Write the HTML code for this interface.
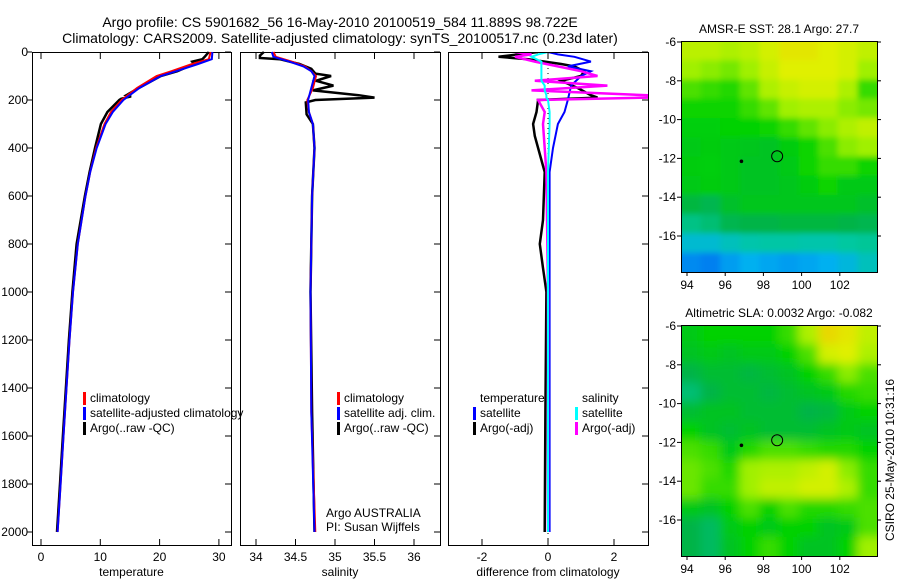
<!DOCTYPE html>
<html><head><meta charset="utf-8"><style>
html,body{margin:0;padding:0;background:#fff}
svg{display:block;font-family:"Liberation Sans",sans-serif}
</style></head><body>
<svg id="c" width="900" height="580" viewBox="0 0 900 580">
<text x="340" y="27" font-size="14" text-anchor="middle">Argo profile: CS 5901682_56 16-May-2010 20100519_584 11.889S 98.722E</text>
<text x="340" y="43" font-size="14" text-anchor="middle">Climatology: CARS2009. Satellite-adjusted climatology: synTS_20100517.nc (0.23d later)</text>
<text transform="translate(894,460) rotate(-90)" font-size="12" text-anchor="middle">CSIRO 25-May-2010 10:31:16</text>
<g id="plots"></g>
</svg>
<script>
// ---- data ----
const depthTicks=[0,200,400,600,800,1000,1200,1400,1600,1800,2000];
const tempTicks=[0,10,20,30];
const salTicks=[34,34.5,35,35.5,36];
const diffTicks=[-2,0,2];
const tClimD=[0,30,50,80,100,150,200,250,300,400,500,600,800,1000,1200,1400,1600,1800,2000];
const tClim=[28.6,28.3,25.5,22,19.5,16.2,13.6,11.8,10.7,9.3,8.3,7.5,6.2,5.4,4.8,4.3,3.8,3.3,2.8];
const tSat=[28.9,28.8,26.5,22.8,20.2,16.6,13.9,12.1,10.9,9.4,8.3,7.5,6.2,5.4,4.8,4.3,3.8,3.3,2.8];
const tArgoD=[0,20,30,40,50,80,100,150,180,185,195,200,250,300,400,500,600,800,1000,1200,1400,1600,1800,2000];
const tArgo=[28.3,27.6,27.2,25.5,25.8,23,20.2,16.5,14.4,15.2,13.5,13.2,11.2,10.1,9.1,8.2,7.4,6.0,5.3,4.7,4.2,3.7,3.2,2.7];
const sClimD=[0,20,40,60,80,100,150,200,250,300,400,600,1000,1500,2000];
const sClim=[34.22,34.25,34.45,34.62,34.7,34.76,34.72,34.65,34.67,34.72,34.74,34.71,34.69,34.7,34.75];
const sSat=[34.2,34.22,34.42,34.6,34.7,34.74,34.7,34.66,34.67,34.72,34.74,34.71,34.69,34.7,34.74];
const sArgoD=[0,15,25,30,50,70,90,100,120,140,160,180,190,200,210,260,300,400,600,1000,1500,2000];
const sArgo=[34.1,34.05,34.05,34.3,34.55,34.7,34.75,34.95,34.76,34.98,34.72,35.3,35.5,34.75,34.63,34.64,34.72,34.74,34.71,34.69,34.71,34.74];
const dTD=[0,10,20,30,50,60,80,100,120,150,180,190,200,250,300,350,400,450,500,700,800,900,1000,1500,2000];
const dTArgo=[-0.3,-0.9,-1.5,-0.6,0.4,0.8,1.1,1.0,0.4,0.9,1.3,1.5,-0.3,-0.35,-0.45,-0.4,-0.3,-0.2,-0.1,-0.15,-0.25,-0.15,-0.05,-0.08,-0.1];
const dTSatD=[0,10,20,40,60,80,100,140,200,250,300,400,500,1000,2000];
const dTSat=[0,0.3,0.8,1.3,0.6,1.3,1.0,0.7,0.6,0.5,0.3,0.15,0.05,0.05,0.05];
const dSD=[0,10,20,40,60,80,100,120,140,160,180,190,200,250,300,500,1000,2000];
const dSArgo=[-1.0,-0.5,-1.0,-0.4,0.3,1.0,1.5,-0.4,1.8,-0.5,3.0,3.0,-0.3,-0.1,-0.15,-0.05,0,0];
const dSSat=[0,-0.3,-0.5,-0.2,-0.2,-0.2,-0.2,-0.2,-0.1,-0.1,-0.05,-0.05,0,0.05,0.05,0,0,0];
const lonTicks=[94,96,98,100,102];
const latTicks=[-6,-8,-10,-12,-14,-16];
const sstGrid=[
[.74,.74,.72,.74,.78,.82,.82,.8,.78,.75],
[.7,.68,.66,.7,.76,.8,.8,.8,.78,.7],
[.62,.6,.58,.64,.72,.76,.78,.78,.72,.6],
[.56,.56,.56,.6,.64,.7,.72,.72,.68,.66],
[.54,.54,.55,.55,.56,.6,.64,.68,.72,.75],
[.52,.53,.52,.51,.5,.53,.56,.62,.68,.7],
[.53,.54,.52,.5,.5,.52,.56,.6,.6,.56],
[.52,.53,.52,.5,.5,.51,.53,.56,.52,.52],
[.46,.44,.49,.51,.51,.51,.51,.51,.51,.49],
[.38,.4,.44,.45,.45,.46,.46,.46,.45,.44],
[.26,.26,.3,.33,.34,.34,.33,.33,.35,.36],
[.12,.1,.16,.2,.18,.16,.18,.2,.24,.3]];
const slaGrid=[
[.52,.55,.55,.55,.55,.6,.72,.85,.82,.75],
[.5,.52,.5,.52,.52,.55,.62,.78,.8,.72],
[.45,.48,.48,.46,.48,.5,.55,.6,.68,.62],
[.4,.45,.48,.48,.46,.48,.5,.52,.58,.6],
[.48,.5,.5,.48,.48,.48,.45,.46,.52,.55],
[.55,.5,.48,.5,.48,.48,.48,.5,.52,.5],
[.62,.6,.52,.58,.62,.62,.6,.58,.58,.55],
[.65,.62,.58,.7,.72,.72,.75,.78,.68,.6],
[.65,.6,.6,.7,.75,.75,.78,.78,.72,.6],
[.52,.5,.55,.62,.55,.62,.58,.58,.6,.62],
[.45,.42,.52,.55,.52,.55,.55,.5,.52,.62],
[.45,.42,.5,.55,.6,.55,.5,.5,.55,.7]];
// ---- drawing ----
const NS='http://www.w3.org/2000/svg';
const root=document.getElementById('plots');
function mk(tag,attrs,parent){const e=document.createElementNS(NS,tag);for(const k in attrs)e.setAttribute(k,attrs[k]);(parent||root).appendChild(e);return e;}
const BOT=545;
const y=d=>52+d*0.24;
function panel(name,x0,x1,xs,ticks,fmt,label,showDepth){
  const g=mk('g',{});
  
  
  mk('rect',{x:x0+.5,y:52.5,width:x1-x0,height:BOT-52,fill:'none',stroke:'#000'},g);
  ticks.forEach(t=>{const X=xs(t);
    mk('line',{x1:X,x2:X,y1:BOT,y2:BOT-6,stroke:'#000'},g);
    mk('line',{x1:X,x2:X,y1:53,y2:59,stroke:'#000'},g);
    const tx=mk('text',{x:X,y:BOT+16,'font-size':12,'text-anchor':'middle'},g);tx.textContent=fmt(t);
    });
  depthTicks.forEach(d=>{const Y=y(d);
    mk('line',{x1:x1,x2:x1-6,y1:Y,y2:Y,stroke:'#000'},g);
    if(showDepth){mk('line',{x1:x0,x2:x0-5,y1:Y,y2:Y,stroke:'#000'},g);
      const t=mk('text',{x:x0-4,y:Y+4,'font-size':12,'text-anchor':'end'},g);t.textContent=d;
      }});
  const l=mk('text',{x:(x0+x1)/2,y:576,'font-size':12,'text-anchor':'middle'},g);l.textContent=label;
  
  return g;
}
function line(g,ds,vs,xs,col,w,name){
  const p=ds.map((d,i)=>(i?'L':'M')+xs(vs[i]).toFixed(1)+','+y(d).toFixed(1)).join('');
  const e=mk('path',{d:p,fill:'none',stroke:col,'stroke-width':w},g);
  
}
function legend(g,x,yy,items){items.forEach((it,i)=>{
  const b=mk('rect',{x:x,y:yy+i*15-10,width:3,height:13,fill:it[0]},g);
  
  if(it[1]){const t=mk('text',{x:x+7,y:yy+i*15,'font-size':12},g);t.textContent=it[1];
  }});}
// temperature
const xT=v=>41+v*5.93;
const g1=panel('temperature-panel',32,231,xT,tempTicks,String,'temperature',true);
line(g1,tArgoD,tArgo,xT,'#000',2.5,'argo-temperature-line');
line(g1,tClimD,tClim,xT,'#f00',2,'climatology-temperature-line');
line(g1,tClimD,tSat,xT,'#00f',2,'satellite-temperature-line');
legend(g1,83,402,[['#f00','climatology'],['#00f','satellite-adjusted climatology'],['#000','Argo(..raw -QC)']]);
// salinity
const xS=v=>256+(v-34)*79;
const g2=panel('salinity-panel',240,440,xS,salTicks,String,'salinity',false);
line(g2,sArgoD,sArgo,xS,'#000',2.5,'argo-salinity-line');
line(g2,sClimD,sClim,xS,'#f00',2,'climatology-salinity-line');
line(g2,sClimD,sSat,xS,'#00f',2,'satellite-salinity-line');
legend(g2,337,402,[['#f00','climatology'],['#00f','satellite adj. clim.'],['#000','Argo(..raw -QC)']]);
const a1=mk('text',{x:326,y:517,'font-size':12},g2);a1.textContent='Argo AUSTRALIA';

const a2=mk('text',{x:326,y:531,'font-size':12},g2);a2.textContent='PI: Susan Wijffels';

// diff
const xD=v=>548+v*33;
const g3p=panel('difference-panel',448,648,xD,diffTicks,String,'difference from climatology',false);
const cp3=mk('clipPath',{id:'dclip'},g3p);mk('rect',{x:449,y:53,width:199,height:BOT-53},cp3);
const gd=mk('g',{'clip-path':'url(#dclip)'},g3p);
mk('line',{x1:548,x2:548,y1:53,y2:BOT,stroke:'#000','stroke-dasharray':'1,4'},gd);
line(gd,dTD,dTArgo,xD,'#000',2.5,'argo-temp-diff-line');
line(gd,dTSatD,dTSat,xD,'#00f',2,'satellite-temp-diff-line');
line(gd,dSD,dSArgo,xD,'#f0f',2.5,'argo-salinity-diff-line');
line(gd,dSD,dSSat,xD,'#0ff',2,'satellite-salinity-diff-line');
legend(g3p,473,402,[['#fff','temperature'],['#00f','satellite'],['#000','Argo(-adj)']]);
legend(g3p,575,402,[['#fff','salinity'],['#0ff','satellite'],['#f0f','Argo(-adj)']]);
// maps
const stops=[[0,[0,80,240]],[.2,[0,176,240]],[.35,[0,200,160]],[.45,[0,180,70]],[.55,[0,210,0]],[.7,[160,240,0]],[.8,[224,240,0]],[.9,[240,192,0]],[1,[192,0,0]]];
function cmap(v){for(let i=1;i<stops.length;i++){if(v<=stops[i][0]){const a=stops[i-1],b=stops[i],f=(v-a[0])/(b[0]-a[0]);
  return 'rgb('+a[1].map((c,k)=>Math.round(c+(b[1][k]-c)*f)).join(',')+')';}}return 'rgb(192,0,0)';}
function map(name,top,title,grid,blur){
  const g=mk('g',{});
  const x0=681,x1=877,bot=top+231;
  const lon=v=>687+(v-94)*19.1, lat=v=>top+1+(-6-v)*19.4;
  const id=name+'-clip';
  const cp=mk('clipPath',{id:id},g);mk('rect',{x:x0,y:top,width:x1-x0,height:bot-top},cp);
  const f=mk('filter',{id:name+'-f'},g);mk('feGaussianBlur',{stdDeviation:blur},f);
  const cg=mk('g',{'clip-path':'url(#'+id+')'},g);
  const ig=mk('g',{filter:'url(#'+name+'-f)'},cg);
  const R=grid.length,C=grid[0].length,cw=(x1-x0)/C,ch=(bot-top)/R;
  grid.forEach((row,r)=>row.forEach((v,c)=>{
    const e=mk('rect',{x:x0+c*cw-10*(c==0),y:top+r*ch-10*(r==0),width:cw+1+((c==0||c==C-1)?10:0),height:ch+1+((r==0||r==R-1)?10:0),fill:cmap(v)},ig);
    }));
  mk('circle',{cx:lon(98.72),cy:lat(-11.89),r:5.5,fill:'none',stroke:'#000'},g);
  mk('circle',{cx:lon(96.85),cy:lat(-12.15),r:1.8,fill:'#000'},g);
  mk('rect',{x:x0+.5,y:top+.5,width:x1-x0,height:bot-top,fill:'none',stroke:'#000'},g);
  lonTicks.forEach(v=>{const X=lon(v);mk('line',{x1:X,x2:X,y1:bot,y2:bot+4,stroke:'#000'},g);
    const t=mk('text',{x:X,y:bot+17,'font-size':12,'text-anchor':'middle'},g);t.textContent=v;
    });
  latTicks.forEach(v=>{const Y=lat(v);mk('line',{x1:x0,x2:x0-4,y1:Y,y2:Y,stroke:'#000'},g);mk('line',{x1:x1,x2:x1+4,y1:Y,y2:Y,stroke:'#000'},g);
    const t=mk('text',{x:x0-5,y:Y+4,'font-size':12,'text-anchor':'end'},g);t.textContent=v;
    });
  const t=mk('text',{x:779,y:top-8,'font-size':12,'text-anchor':'middle'},g);t.textContent=title;
  
}
map('sst-map',41,'AMSR-E SST: 28.1 Argo: 27.7',sstGrid,3);
map('sla-map',325,'Altimetric SLA: 0.0032 Argo: -0.082',slaGrid,5);
</script>
</body></html>
